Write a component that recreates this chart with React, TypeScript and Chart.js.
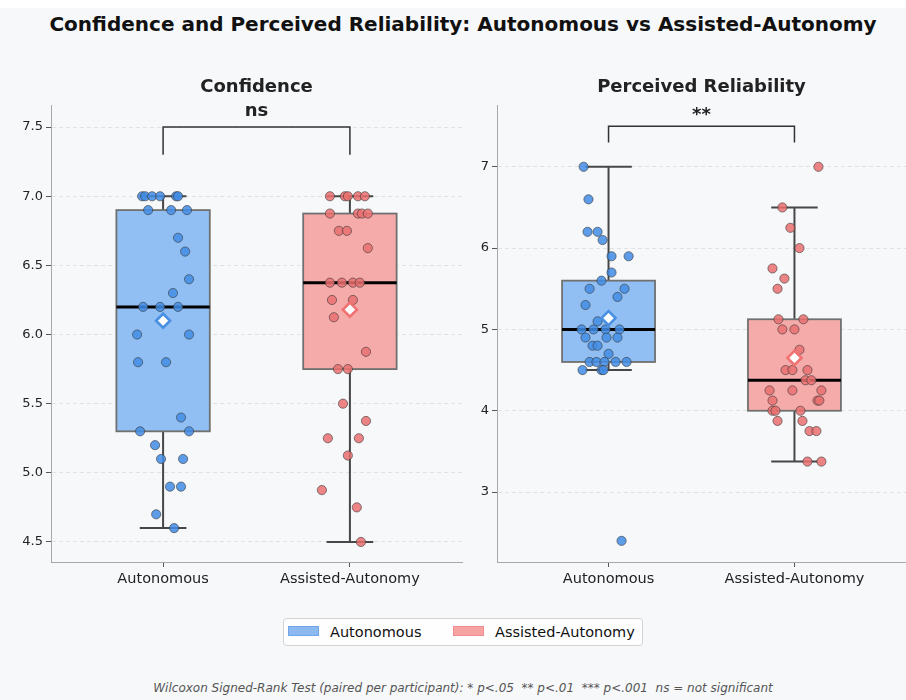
import React, { useEffect, useRef } from "react";
import { Chart, registerables } from "chart.js";

Chart.register(...registerables);

const FONT = '"DejaVu Sans", "Liberation Sans", sans-serif';

const groups = ["Autonomous", "Assisted-Autonomy"];
const boxFill = ["#92bff3", "#f6abab"];
const pointFill = ["rgba(66,140,228,0.85)", "rgba(234,112,112,0.85)"];
const meanEdge = ["#4a90e2", "#f07272"];

// Confidence ratings per participant
const confidenceAutonomous = [7.0, 7.0, 7.0, 7.0, 7.0, 7.0, 6.9, 6.9, 6.9, 6.7, 6.6, 6.4, 6.3, 6.2, 6.2, 6.2, 6.0, 6.0, 5.8, 5.8, 5.4, 5.3, 5.3, 5.2, 5.1, 5.1, 4.9, 4.9, 4.7, 4.6];
const confidenceAutonomousJitter = [-0.112, -0.096, -0.059, -0.016, 0.07, 0.08, -0.08, 0.043, 0.128, 0.08, 0.118, 0.139, 0.053, -0.107, -0.016, 0.08, -0.139, 0.139, -0.134, 0.016, 0.096, -0.123, 0.139, -0.043, -0.011, 0.107, 0.037, 0.096, -0.037, 0.059];
const confidenceAssisted = [7.0, 7.0, 7.0, 7.0, 7.0, 6.875, 6.875, 6.875, 6.875, 6.75, 6.75, 6.625, 6.375, 6.375, 6.375, 6.375, 6.25, 6.25, 6.125, 5.875, 5.75, 5.75, 5.5, 5.375, 5.25, 5.25, 5.125, 4.875, 4.75, 4.5];
const confidenceAssistedJitter = [-0.107, -0.027, -0.011, 0.043, 0.08, -0.107, 0.043, 0.064, 0.096, -0.059, -0.016, 0.096, -0.107, -0.043, 0.016, 0.053, -0.096, 0.016, -0.086, 0.086, -0.064, -0.011, -0.037, 0.086, -0.118, 0.048, -0.011, -0.15, 0.037, 0.059];

// Perceived reliability ratings per participant
const reliabilityAutonomous = [7.0, 6.6, 6.2, 6.2, 6.1, 5.9, 5.9, 5.7, 5.6, 5.5, 5.5, 5.4, 5.3, 5.1, 5.0, 5.0, 5.0, 5.0, 4.9, 4.9, 4.9, 4.8, 4.8, 4.7, 4.6, 4.6, 4.6, 4.6, 4.6, 4.5, 4.5, 4.5, 2.4];
const reliabilityAutonomousJitter = [-0.134, -0.108, -0.113, -0.059, -0.032, 0.016, 0.108, 0.016, -0.038, -0.102, 0.086, 0.048, -0.124, -0.059, -0.145, -0.081, -0.016, 0.059, -0.124, -0.011, 0.048, -0.086, -0.059, 0.0, -0.102, -0.065, -0.022, 0.038, 0.097, -0.14, -0.038, -0.027, 0.07];
const reliabilityAssisted = [7.0, 6.5, 6.25, 6.0, 5.75, 5.625, 5.5, 5.125, 5.125, 5.0, 5.0, 4.75, 4.5, 4.5, 4.5, 4.375, 4.375, 4.25, 4.25, 4.25, 4.125, 4.125, 4.125, 4.0, 4.0, 4.0, 3.875, 3.875, 3.75, 3.75, 3.375, 3.375];
const reliabilityAssistedJitter = [0.129, -0.065, -0.022, 0.027, -0.118, -0.054, -0.091, -0.086, 0.048, -0.065, 0.0, 0.027, -0.048, -0.011, 0.07, 0.059, 0.091, -0.134, -0.011, 0.145, -0.118, 0.124, 0.134, -0.118, -0.102, 0.032, -0.091, 0.043, 0.081, 0.118, 0.07, 0.145];

// Box summaries [Autonomous, Assisted-Autonomy]
const confidenceQ1 = [5.3, 5.75];
const confidenceMedian = [6.2, 6.375];
const confidenceQ3 = [6.9, 6.875];
const confidenceWhiskerLow = [4.6, 4.5];
const confidenceWhiskerHigh = [7.0, 7.0];
const confidenceMean = [6.1, 6.18];

const reliabilityQ1 = [4.6, 4.0];
const reliabilityMedian = [5.0, 4.375];
const reliabilityQ3 = [5.6, 5.125];
const reliabilityWhiskerLow = [4.5, 3.375];
const reliabilityWhiskerHigh = [7.0, 6.5];
const reliabilityMean = [5.14, 4.65];

const confidenceTicks = [4.5, 5.0, 5.5, 6.0, 6.5, 7.0, 7.5];
const reliabilityTicks = [3, 4, 5, 6, 7];

const confidenceSignificance = "ns";
const reliabilitySignificance = "**";

type Stats = { q1: number[]; median: number[]; q3: number[]; low: number[]; high: number[]; mean: number[] };

type PanelProps = {
  title: string;
  stats: Stats;
  values: number[][];
  jitter: number[][];
  ticks: number[];
  yMin: number;
  yMax: number;
  tickLabel: (v: number) => string;
  sig: string;
  bracketTop: number;
  bracketLeg: number;
  left: number;
  top: number;
  width: number;
  height: number;
  yAxisWidth: number;
  padRight: number;
};

function Panel(props: PanelProps) {
  const ref = useRef<HTMLCanvasElement | null>(null);

  useEffect(() => {
    const canvas = ref.current;
    if (!canvas) return;
    const { stats } = props;

    const boxes = {
      id: "boxes",
      beforeDatasetsDraw(chart: any) {
        const ctx = chart.ctx;
        const xs = chart.scales.x;
        const ys = chart.scales.y;
        ctx.save();
        for (let i = 0; i < groups.length; i++) {
          const xc = xs.getPixelForValue(i);
          const half = xs.getPixelForValue(i + 0.25) - xc;
          const capHalf = xs.getPixelForValue(i + 0.125) - xc;
          const yQ1 = ys.getPixelForValue(stats.q1[i]);
          const yQ3 = ys.getPixelForValue(stats.q3[i]);
          const yMed = ys.getPixelForValue(stats.median[i]);
          const yLo = ys.getPixelForValue(stats.low[i]);
          const yHi = ys.getPixelForValue(stats.high[i]);

          // whiskers and caps
          ctx.strokeStyle = "#474747";
          ctx.lineWidth = 2;
          ctx.setLineDash([]);
          ctx.beginPath();
          ctx.moveTo(xc, yQ3);
          ctx.lineTo(xc, yHi);
          ctx.moveTo(xc, yQ1);
          ctx.lineTo(xc, yLo);
          ctx.moveTo(xc - capHalf, yHi);
          ctx.lineTo(xc + capHalf, yHi);
          ctx.moveTo(xc - capHalf, yLo);
          ctx.lineTo(xc + capHalf, yLo);
          ctx.stroke();

          // box
          ctx.fillStyle = boxFill[i];
          ctx.fillRect(xc - half, yQ3, half * 2, yQ1 - yQ3);
          ctx.strokeStyle = "#707070";
          ctx.lineWidth = 1.8;
          ctx.strokeRect(xc - half, yQ3, half * 2, yQ1 - yQ3);

          // median
          ctx.strokeStyle = "#000";
          ctx.lineWidth = 3;
          ctx.beginPath();
          ctx.moveTo(xc - half, yMed);
          ctx.lineTo(xc + half, yMed);
          ctx.stroke();
        }
        ctx.restore();
      },
      afterDraw(chart: any) {
        const ctx = chart.ctx;
        const xs = chart.scales.x;
        const ys = chart.scales.y;
        const area = chart.chartArea;
        ctx.save();
        // panel title
        ctx.fillStyle = "#222";
        ctx.font = `bold 18px ${FONT}`;
        ctx.textAlign = "center";
        ctx.textBaseline = "alphabetic";
        ctx.fillText(props.title, (area.left + area.right) / 2, 32);

        // significance bracket
        const x0 = xs.getPixelForValue(0);
        const x1 = xs.getPixelForValue(1);
        const yTop = ys.getPixelForValue(props.bracketTop);
        const yLeg = ys.getPixelForValue(props.bracketLeg);
        ctx.strokeStyle = "#333";
        ctx.lineWidth = 1.5;
        ctx.beginPath();
        ctx.moveTo(x0, yLeg);
        ctx.lineTo(x0, yTop);
        ctx.lineTo(x1, yTop);
        ctx.lineTo(x1, yLeg);
        ctx.stroke();
        ctx.fillStyle = "#222";
        ctx.font = `bold 18px ${FONT}`;
        ctx.fillText(props.sig, (x0 + x1) / 2, props.sig === "ns" ? yTop - 11 : yTop - 6);
        ctx.restore();
      },
    };

    const pointSets = props.values.map((vals, g) => ({
      type: "scatter" as const,
      order: 1,
      data: vals.map((v, k) => ({ x: g + props.jitter[g][k], y: v })),
      pointRadius: 4.6,
      pointBackgroundColor: pointFill[g],
      pointBorderColor: "rgba(55,55,55,0.75)",
      pointBorderWidth: 0.8,
      showLine: false,
    }));

    const chart = new Chart(canvas, {
      type: "scatter",
      data: {
        datasets: [
          {
            order: 0,
            data: stats.mean.map((m, g) => ({ x: g, y: m })),
            pointStyle: "rectRot",
            pointRadius: 7,
            pointBackgroundColor: "#ffffff",
            pointBorderColor: meanEdge,
            pointBorderWidth: 2.6,
          },
          ...pointSets,
        ] as any,
      },
      options: {
        animation: false,
        responsive: false,
        events: [],
        devicePixelRatio: 1,
        layout: { autoPadding: false, padding: { left: 0, right: props.padRight, top: 45, bottom: 0 } },
        plugins: { legend: { display: false }, tooltip: { enabled: false }, title: { display: false } },
        scales: {
          x: {
            type: "linear",
            min: -0.6,
            max: 1.6,
            afterBuildTicks: (s: any) => {
              s.ticks = groups.map((_, i) => ({ value: i }));
            },
            afterFit: (s: any) => {
              s.height = 38;
              s.paddingLeft = 0;
              s.paddingRight = 0;
            },
            ticks: {
              autoSkip: false,
              maxRotation: 0,
              padding: 4,
              color: "#222",
              font: { family: FONT, size: 14.5 },
              callback: (v: any) => groups[Math.round(Number(v))],
            },
            grid: { drawOnChartArea: false, drawTicks: true, tickLength: 5, tickColor: "#555", tickBorderDash: [] },
            border: { display: true, color: "#a8a8a8", width: 1 },
          },
          y: {
            type: "linear",
            min: props.yMin,
            max: props.yMax,
            afterBuildTicks: (s: any) => {
              s.ticks = props.ticks.map((v) => ({ value: v }));
            },
            afterFit: (s: any) => {
              s.width = props.yAxisWidth;
              s.paddingTop = 0;
              s.paddingBottom = 0;
            },
            ticks: {
              padding: 3,
              color: "#222",
              font: { family: FONT, size: 13 },
              callback: (v: any) => props.tickLabel(Number(v)),
            },
            grid: { color: "#e2e2e2", lineWidth: 1, drawTicks: true, tickLength: 5, tickColor: "#555", tickBorderDash: [] },
            border: { display: true, color: "#a8a8a8", width: 1, dash: [4, 3] },
          },
        },
      },
      plugins: [boxes],
    } as any);

    return () => chart.destroy();
  }, []);

  return (
    <canvas
      ref={ref}
      width={props.width}
      height={props.height}
      style={{ position: "absolute", left: props.left, top: props.top, width: props.width, height: props.height }}
    />
  );
}

export default function App() {
  useEffect(() => {
    document.body.style.margin = "0";
    document.documentElement.style.overflow = "hidden";
  }, []);

  const center = 463;

  return (
    <div style={{ position: "relative", width: 906, height: 700, overflow: "hidden", background: "#ffffff", fontFamily: FONT }}>
      <div style={{ position: "absolute", left: 0, top: 8, right: 0, bottom: 0, background: "#f7f8fa" }} />
      <div
        style={{
          position: "absolute",
          left: center,
          top: 14,
          transform: "translateX(-50%)",
          whiteSpace: "nowrap",
          fontWeight: "bold",
          fontSize: 20,
          lineHeight: "20px",
          color: "#111",
        }}
      >
        Confidence and Perceived Reliability: Autonomous vs Assisted-Autonomy
      </div>

      <Panel
        title="Confidence"
        stats={{
          q1: confidenceQ1,
          median: confidenceMedian,
          q3: confidenceQ3,
          low: confidenceWhiskerLow,
          high: confidenceWhiskerHigh,
          mean: confidenceMean,
        }}
        values={[confidenceAutonomous, confidenceAssisted]}
        jitter={[confidenceAutonomousJitter, confidenceAssistedJitter]}
        ticks={confidenceTicks}
        yMin={4.355}
        yMax={7.66}
        tickLabel={(v) => v.toFixed(1)}
        sig={confidenceSignificance}
        bracketTop={7.5}
        bracketLeg={7.3}
        left={0}
        top={60}
        width={470}
        height={540}
        yAxisWidth={51}
        padRight={8}
      />
      <Panel
        title="Perceived Reliability"
        stats={{
          q1: reliabilityQ1,
          median: reliabilityMedian,
          q3: reliabilityQ3,
          low: reliabilityWhiskerLow,
          high: reliabilityWhiskerHigh,
          mean: reliabilityMean,
        }}
        values={[reliabilityAutonomous, reliabilityAssisted]}
        jitter={[reliabilityAutonomousJitter, reliabilityAssistedJitter]}
        ticks={reliabilityTicks}
        yMin={2.14}
        yMax={7.76}
        tickLabel={(v) => String(Math.round(v))}
        sig={reliabilitySignificance}
        bracketTop={7.5}
        bracketLeg={7.3}
        left={470}
        top={60}
        width={436}
        height={540}
        yAxisWidth={27}
        padRight={0}
      />

      {/* legend */}
      <div
        style={{
          position: "absolute",
          left: 283,
          top: 618,
          width: 360,
          height: 28,
          boxSizing: "border-box",
          border: "1px solid #d4d4d4",
          borderRadius: 4,
          background: "rgba(255,255,255,0.85)",
          fontSize: 14.5,
          color: "#111",
        }}
      >
        <div style={{ position: "absolute", left: 4, top: 7, width: 31, height: 10, boxSizing: "border-box", background: "#8cb9f0", border: "1px solid #6fa6ea" }} />
        <span style={{ position: "absolute", left: 46, top: 0, lineHeight: "26px", whiteSpace: "nowrap" }}>{groups[0]}</span>
        <div style={{ position: "absolute", left: 169, top: 7, width: 31, height: 10, boxSizing: "border-box", background: "#f5a3a3", border: "1px solid #f08c8c" }} />
        <span style={{ position: "absolute", left: 211, top: 0, lineHeight: "26px", whiteSpace: "nowrap" }}>{groups[1]}</span>
      </div>

      <div
        style={{
          position: "absolute",
          left: center,
          top: 682,
          transform: "translateX(-50%)",
          whiteSpace: "pre",
          fontStyle: "italic",
          fontSize: 12,
          lineHeight: "12px",
          color: "#555",
        }}
      >
        {"Wilcoxon Signed-Rank Test (paired per participant): * p<.05  ** p<.01  *** p<.001  ns = not significant"}
      </div>
    </div>
  );
}
